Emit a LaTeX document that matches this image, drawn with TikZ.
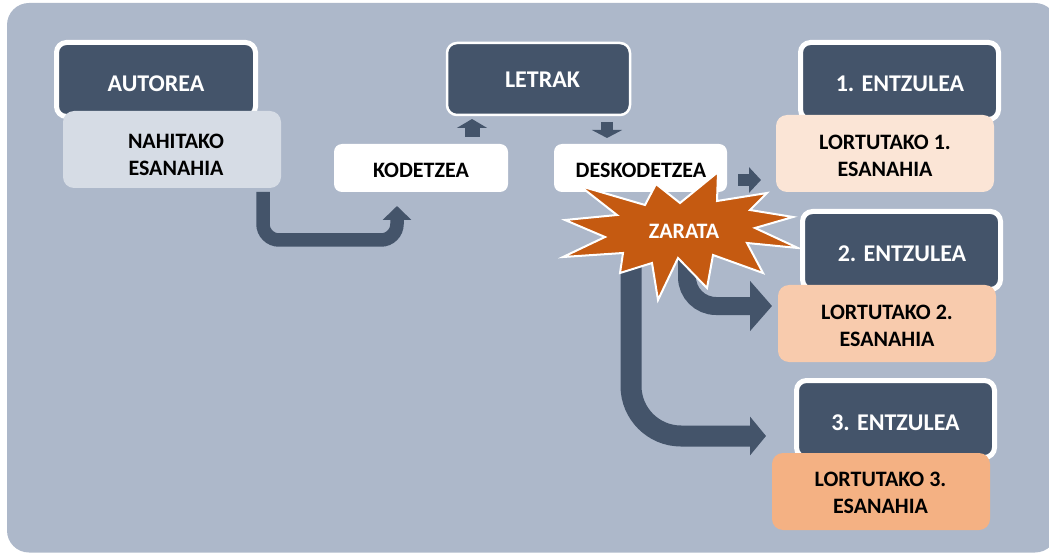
\documentclass[tikz,border=0pt]{standalone}
\usepackage{fontspec}
\setmainfont{Carlito}
\usetikzlibrary{arrows.meta,calc}
\definecolor{bgc}{HTML}{ADB8CA}
\definecolor{darkc}{HTML}{44546A}
\definecolor{nahc}{HTML}{D6DCE5}
\definecolor{lorA}{HTML}{FBE5D6}
\definecolor{lorB}{HTML}{F8CBAD}
\definecolor{lorC}{HTML}{F4B183}
\definecolor{zarc}{HTML}{C55A11}
\begin{document}
\begin{tikzpicture}[x=1pt,y=-1pt,
  darkbox/.style={draw=white,fill=darkc,line width=5pt,rounded corners=10pt,inner sep=0pt,outer sep=0pt,minimum width=198pt,minimum height=77pt},
  lightbox/.style={rounded corners=11pt,inner sep=0pt,outer sep=0pt,minimum width=218pt,minimum height=77pt},
  whitebox/.style={fill=white,rounded corners=8pt,inner sep=0pt,outer sep=0pt,minimum width=174pt,minimum height=48pt},
  lbl/.style={inner sep=0pt,align=center,font=\fontsize{22}{27}\selectfont\bfseries,text=black},
  dlbl/.style={inner sep=0pt,align=center,font=\fontsize{24}{28}\selectfont\bfseries,text=white},
  flow/.style={draw=darkc,line cap=butt},
]
\useasboundingbox (0,0) rectangle (1049,553);
\fill[bgc,rounded corners=22pt] (7,3) rectangle (1057,552.5);

% dark boxes
\node[darkbox,minimum width=199pt,minimum height=74pt] (autor) at (156,79.5) {};
\node[darkbox,line width=2.5pt,minimum width=183pt,minimum height=72pt] (letrak) at (538.5,79) {};
\node[darkbox] (ent1) at (899.5,81) {};
\node[darkbox,minimum height=78pt] (ent2) at (901.5,250.5) {};
\node[darkbox] (ent3) at (895.5,419) {};

% light boxes
\node[lightbox,fill=nahc] (nah) at (172,149.5) {};
\node[lightbox,fill=lorA] (lor1) at (885,153.5) {};
\node[lightbox,fill=lorB] (lor2) at (887,323.5) {};
\node[lightbox,fill=lorC] (lor3) at (881,491.5) {};
\node[whitebox] (kod) at (421,168) {};
\node[whitebox,minimum width=173pt] (desk) at (640.5,168) {};

% centre of the noise star
\coordinate (zar) at (683,230);

% connectors
\coordinate (f1s) at ($(nah.south east)+(-18,4)$);
\coordinate (f1e) at ($(kod.south west)+(63,14)$);
\draw[flow,line width=13.5pt,rounded corners=16pt,-{Triangle[width=28pt 0 0,length=14pt 0 0]}]
  (f1s) -- ($(f1s)+(0,48)$) -- ($(f1e)+(0,34)$) -- (f1e);

\coordinate (upS) at ($(kod.north)+(51,-7)$);
\coordinate (upE) at ($(letrak.south)+(-66.5,4)$);
\draw[flow,line width=15pt,-{Triangle[width=30pt 0 0,length=9pt 0 0]}] (upS) -- (upE);

\coordinate (dnS) at ($(letrak.south)+(68.5,7)$);
\coordinate (dnE) at ($(desk.north)+(-33.5,-6)$);
\draw[flow,line width=12pt,-{Triangle[width=30pt 0 0,length=8pt 0 0]}] (dnS) -- (dnE);

\coordinate (rtS) at ($(desk.east)+(11,12)$);
\coordinate (rtE) at ($(lor1.west)+(-15,26.5)$);
\draw[flow,line width=12pt,-{Triangle[width=25pt 0 0,length=12pt 0 0]}] (rtS) -- (rtE);

\coordinate (f2s) at ($(zar)+(4,20)$);
\coordinate (f2e) at ($(lor2.west)+(-6,-17.5)$);
\draw[flow,line width=18pt,rounded corners=29pt,-{Triangle[width=49pt 0 0,length=22pt 0 0]}] (f2s) |- (f2e);

\coordinate (f3s) at ($(zar)+(-52,32)$);
\coordinate (f3e) at ($(lor3.north west)+(-6,-17)$);
\draw[flow,line width=21pt,rounded corners=50pt,-{Triangle[width=38pt 0 0,length=16pt 0 0]}] (f3s) |- (f3e);

% noise star
\draw[fill=zarc,draw=white,line width=2pt,line join=miter]
  (580,186) -- (645,205) -- (656,184) -- (680,203) -- (718,172) -- (717,201)
  -- (767,193) -- (750,210) -- (793,217) -- (755,228) -- (798,248) -- (747,243)
  -- (763,273) -- (713,255) -- (707,288) -- (678,258) -- (658,300) -- (652,263)
  -- (620,273) -- (623,253) -- (563,257) -- (605,237) -- (565,220) -- (617,215) -- cycle;

% labels
\node[dlbl] (tautor) at (156,84) {AUTOREA};
\node[dlbl] (tletrak) at (542.5,80) {LETRAK};
\node[dlbl] (tent1) at (900,83.5) {1. ENTZULEA};
\node[dlbl] (tent2) at (902,254) {2. ENTZULEA};
\node[dlbl] (tent3) at (895.5,422.5) {3. ENTZULEA};
\node[lbl] (tnah) at (176,155) {NAHITAKO\\ESANAHIA};
\node[lbl] (tkod) at (421,170) {KODETZEA};
\node[lbl] (tdesk) at (641,170) {DESKODETZEA};
\node[lbl] (tlor1) at (885,156) {LORTUTAKO 1.\\ESANAHIA};
\node[lbl] (tlor2) at (887,326) {LORTUTAKO 2.\\ESANAHIA};
\node[lbl] (tlor3) at (880.5,493) {LORTUTAKO 3.\\ESANAHIA};
\node[lbl,text=white] (tzar) at (684,231) {ZARATA};
\end{tikzpicture}
\end{document}
